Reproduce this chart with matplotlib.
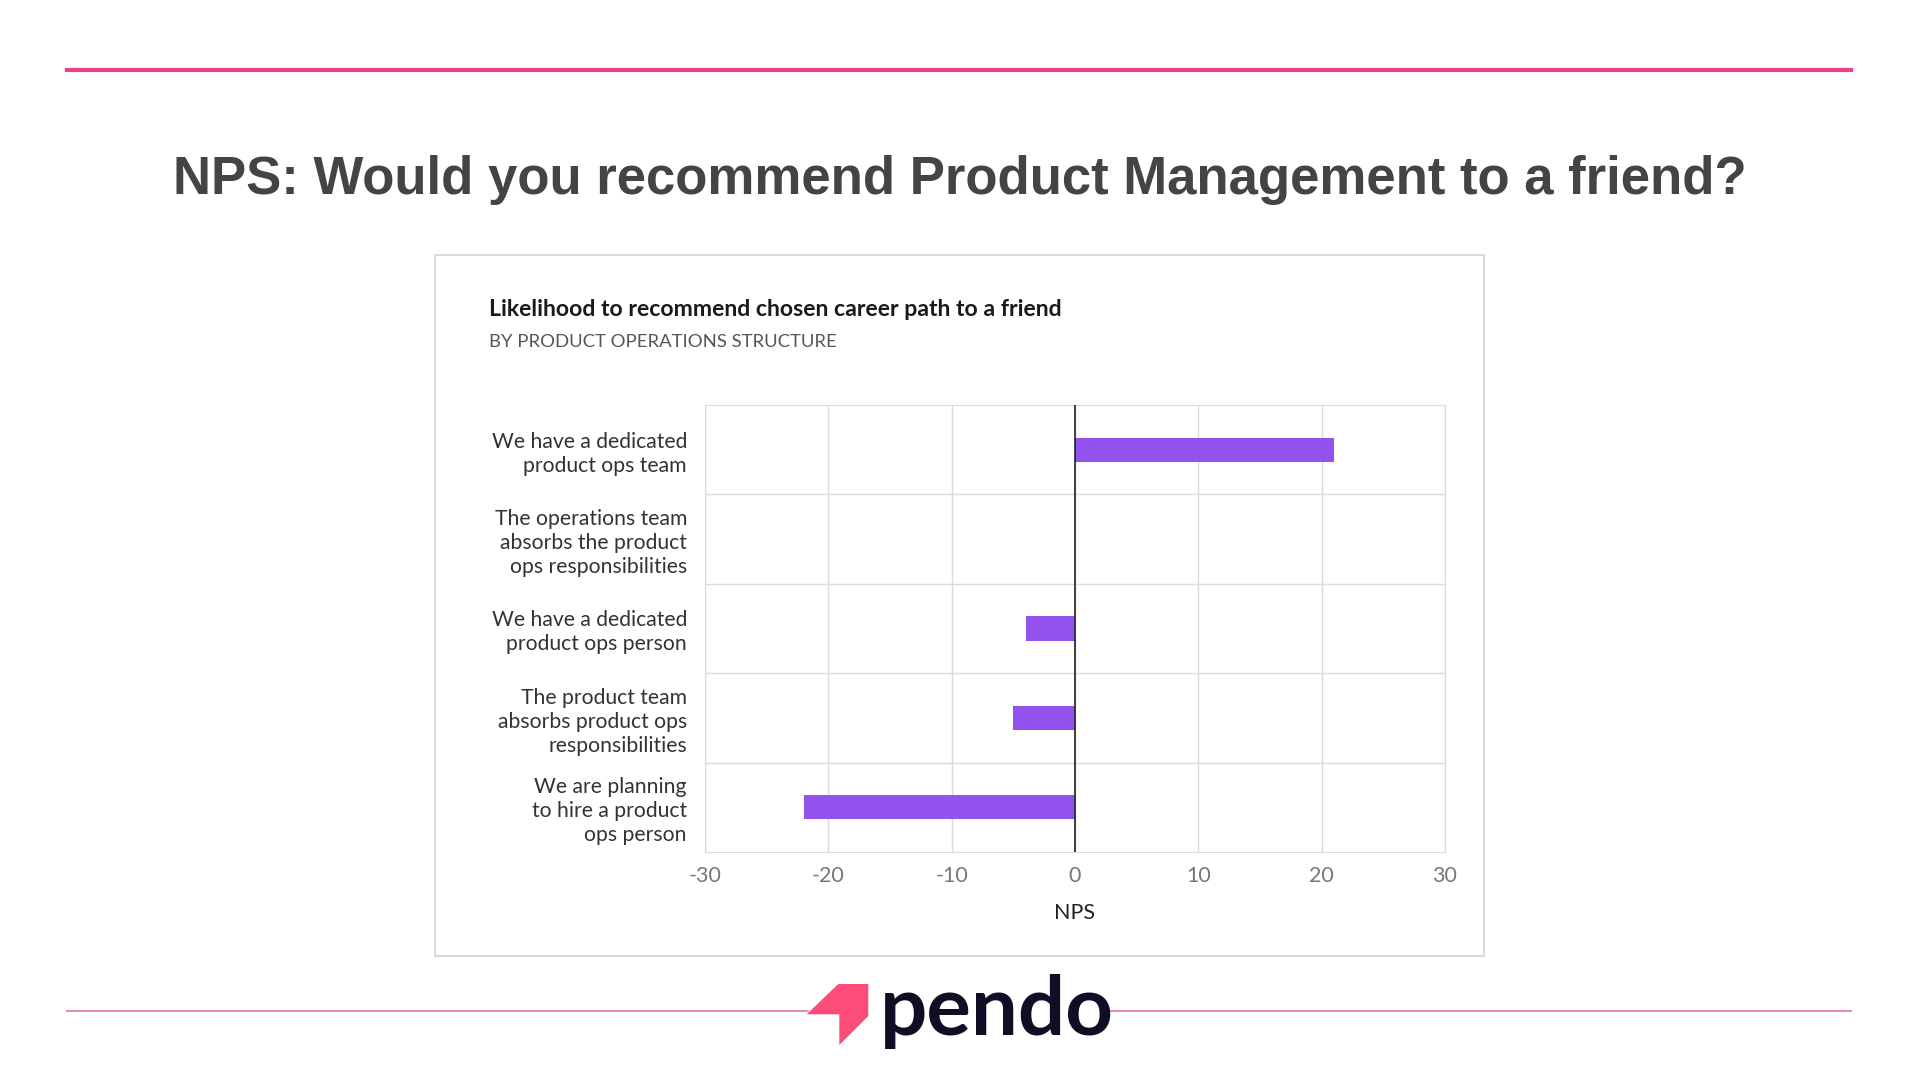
import matplotlib.pyplot as plt
import matplotlib.patches as mpatches
from matplotlib.lines import Line2D

# Chart data
categories = [
    "We have a dedicated\nproduct ops team",
    "The operations team\nabsorbs the product\nops responsibilities",
    "We have a dedicated\nproduct ops person",
    "The product team\nabsorbs product ops\nresponsibilities",
    "We are planning\nto hire a product\nops person",
]
nps = [21, 0, -4, -5, -22]
xticks = [-30, -20, -10, 0, 10, 20, 30]

W, H = 1920, 1080


def fx(x):
    return x / W


def fy(y):
    return 1 - y / H


fig = plt.figure(figsize=(19.2, 10.8), dpi=100)
fig.patch.set_facecolor("white")

# Slide decoration: top pink rule and headline.
fig.add_artist(Line2D([fx(67), fx(1851)], [fy(70), fy(70)], color="#ee3f8a", lw=3))
fig.text(0.5, fy(180), "NPS: Would you recommend Product Management to a friend?",
         ha="center", va="center", fontsize=38, fontweight="bold",
         family="Liberation Sans", color="#444444")

# Card around the chart (kept behind the axes).
card = mpatches.Rectangle((fx(435), fy(956)), fx(1484) - fx(435), fy(255) - fy(956),
                          transform=fig.transFigure, facecolor="white",
                          edgecolor="#d3d3d3", lw=1.2, zorder=-5)
fig.add_artist(card)
fig.text(fx(489), fy(309), "Likelihood to recommend chosen career path to a friend",
         ha="left", va="center", fontsize=16.6, fontweight="bold", family="Lato",
         color="#1a1a1a")
fig.text(fx(489), fy(342), "BY PRODUCT OPERATIONS STRUCTURE",
         ha="left", va="center", fontsize=13.3, family="Lato", color="#555555")

# Bar chart.
ax = fig.add_axes([fx(705), fy(852), fx(1445) - fx(705), fy(405) - fy(852)])
ax.set_facecolor("white")
ypos = list(range(len(categories)))
ax.barh(ypos, nps, height=0.27, color="#9351ed", zorder=3)
ax.axvline(0, color="#222222", lw=1.2, zorder=4)
ax.set_xlim(-30, 30)
ax.set_ylim(len(categories) - 0.5, -0.5)
ax.set_xticks(xticks)
ax.set_xticklabels([str(t) for t in xticks])
ax.set_yticks(ypos)
ax.set_yticklabels(categories, fontsize=15.2, family="Lato", color="#333333",
                   linespacing=1.25)
ax.set_yticks([y + 0.5 for y in ypos[:-1]], minor=True)
ax.grid(axis="x", which="major", color="#d8dbe0", lw=1, zorder=0)
ax.grid(axis="y", which="minor", color="#d8dbe0", lw=1, zorder=0)
ax.grid(axis="y", which="major", visible=False)
ax.tick_params(axis="both", which="both", length=0)
ax.tick_params(axis="x", labelsize=15.5, labelcolor="#777777", pad=10)
ax.tick_params(axis="y", pad=13)
for lbl in ax.get_xticklabels():
    lbl.set_family("Lato")
for spine in ax.spines.values():
    spine.set_color("#d8dbe0")
ax.set_xlabel("NPS", fontsize=15.5, family="Lato", color="#222222", labelpad=12)

# Footer rule and logo.
fig.add_artist(Line2D([fx(67), fx(808)], [fy(1011), fy(1011)], color="#e47ea3", lw=1.3))
fig.add_artist(Line2D([fx(1108), fx(1851)], [fy(1011), fy(1011)], color="#e47ea3", lw=1.3))
logo_pts = [(806.7, 1014.3), (838.3, 984), (868.3, 984), (868.3, 1016),
            (839.3, 1045), (839.3, 1014.3)]
fig.add_artist(mpatches.Polygon([(fx(x), fy(y)) for x, y in logo_pts], closed=True,
                                transform=fig.transFigure, facecolor="#fb4d77",
                                edgecolor="none"))
fig.text(fx(880), fy(1035), "pendo", ha="left", va="baseline", fontsize=60,
         fontweight="bold", family="Lato", color="#0f0e24")

fig.savefig("out.png", dpi=100)
